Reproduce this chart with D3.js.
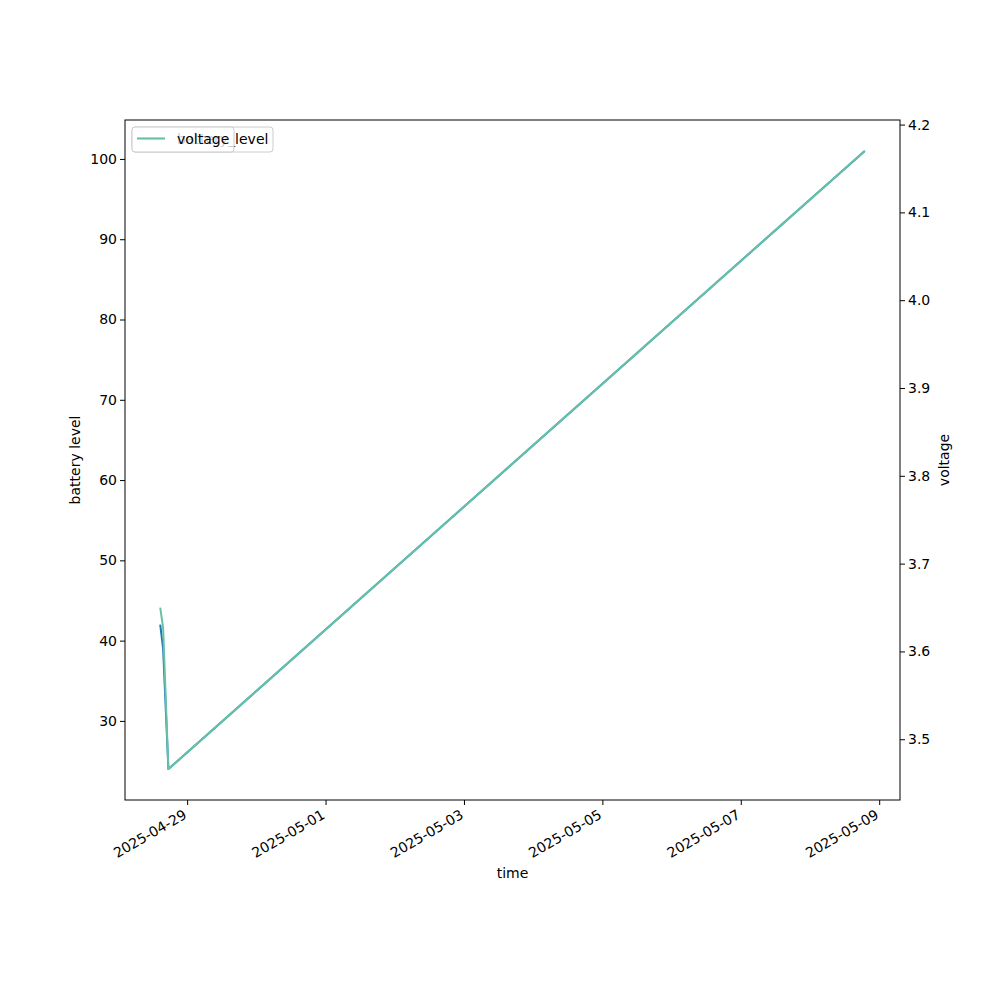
<!DOCTYPE html>
<html><head><meta charset="utf-8">
<script src="https://cdn.jsdelivr.net/npm/d3@7"></script>
<style>body{margin:0;background:#fff}svg{display:block}text{font-family:"DejaVu Sans",sans-serif}</style>
</head><body>
<script>
const times = ["2025-04-28T14:40:00", "2025-04-28T15:40:00", "2025-04-28T17:30:00", "2025-05-08T19:00:00"];
const batteryLevel = [42, 39, 24, 101];
const voltage = [3.65, 3.627, 3.466, 4.17];
const xTickLabels = ["2025-04-29", "2025-05-01", "2025-05-03", "2025-05-05", "2025-05-07", "2025-05-09"];
const leftTicks = [30, 40, 50, 60, 70, 80, 90, 100];
const rightTicks = [3.5, 3.6, 3.7, 3.8, 3.9, 4.0, 4.1, 4.2];
const seriesNames = ["battery_level", "voltage"];
const colors = ["#1f77b4", "#66c2a5"];

const W = 1000, H = 1000;
const m = {left: 125, right: 900, top: 120, bottom: 800};
const parse = d3.isoParse;
const tDates = times.map(parse);

function pad(ext) { const r = ext[1] - ext[0]; return [ext[0] - 0.05 * r, ext[1] + 0.05 * r]; }
const x = d3.scaleTime().domain(pad(d3.extent(tDates).map(d => +d)).map(v => new Date(v))).range([m.left, m.right]);
const yL = d3.scaleLinear().domain(pad(d3.extent(batteryLevel))).range([m.bottom, m.top]);
const yR = d3.scaleLinear().domain(pad(d3.extent(voltage))).range([m.bottom, m.top]);

const svg = d3.select("body").append("svg").attr("width", W).attr("height", H);

// lines
const lineL = d3.line().x((d, i) => x(tDates[i])).y(d => yL(d));
const lineR = d3.line().x((d, i) => x(tDates[i])).y(d => yR(d));
const plot = svg.append("g");
plot.append("path").datum(batteryLevel).attr("d", lineL).attr("fill", "none").attr("stroke", colors[0]).attr("stroke-width", 2).attr("stroke-linejoin", "round");
plot.append("path").datum(voltage).attr("d", lineR).attr("fill", "none").attr("stroke", colors[1]).attr("stroke-width", 2).attr("stroke-linejoin", "round");

// frame
svg.append("rect").attr("x", m.left).attr("y", m.top).attr("width", m.right - m.left).attr("height", m.bottom - m.top)
  .attr("fill", "none").attr("stroke", "#000").attr("stroke-width", 1);

const fs = "14px";
// x axis
const xAx = svg.append("g").attr("transform", `translate(0,${m.bottom})`)
  .call(d3.axisBottom(x).tickValues(xTickLabels.map(parse)).tickSize(5).tickSizeOuter(0).tickFormat(d3.timeFormat("%Y-%m-%d")));
xAx.select(".domain").remove();
xAx.selectAll("text").attr("font-size", fs).attr("fill", "#000").attr("text-anchor", "end")
  .attr("x", 0).attr("y", 0).attr("dy", "0.71em")
  .attr("transform", "translate(-5,9) rotate(-30)");

const yAxL = svg.append("g").attr("transform", `translate(${m.left},0)`)
  .call(d3.axisLeft(yL).tickValues(leftTicks).tickSize(5).tickSizeOuter(0).tickFormat(d3.format("d")));
yAxL.select(".domain").remove();
yAxL.selectAll("text").attr("font-size", fs).attr("fill", "#000");

const yAxR = svg.append("g").attr("transform", `translate(${m.right},0)`)
  .call(d3.axisRight(yR).tickValues(rightTicks).tickSize(5).tickSizeOuter(0).tickFormat(d3.format(".1f")));
yAxR.select(".domain").remove();
yAxR.selectAll("text").attr("font-size", fs).attr("fill", "#000");

svg.append("text").attr("x", (m.left + m.right) / 2).attr("y", 878).attr("text-anchor", "middle").attr("font-size", fs).text("time");
svg.append("text").attr("transform", `translate(80,${(m.top + m.bottom) / 2}) rotate(-90)`).attr("text-anchor", "middle").attr("font-size", fs).text("battery level");
svg.append("text").attr("transform", `translate(949,${(m.top + m.bottom) / 2}) rotate(-90)`).attr("text-anchor", "middle").attr("font-size", fs).text("voltage");

// legends (two overlapping, as drawn by separate axes)
const legW = [141, 102];
seriesNames.forEach((name, i) => {
  const g = svg.append("g").attr("transform", "translate(132,127)");
  g.append("rect").attr("width", legW[i]).attr("height", 25).attr("rx", 3)
    .attr("fill", "#fff").attr("fill-opacity", 0.8).attr("stroke", "#cccccc").attr("stroke-width", 1);
  g.append("line").attr("x1", 5).attr("x2", 33).attr("y1", 11.5).attr("y2", 11.5).attr("stroke", colors[i]).attr("stroke-width", 2);
  g.append("text").attr("x", 45).attr("y", 16.5).attr("font-size", fs).text(name);
});
</script>
</body></html>
